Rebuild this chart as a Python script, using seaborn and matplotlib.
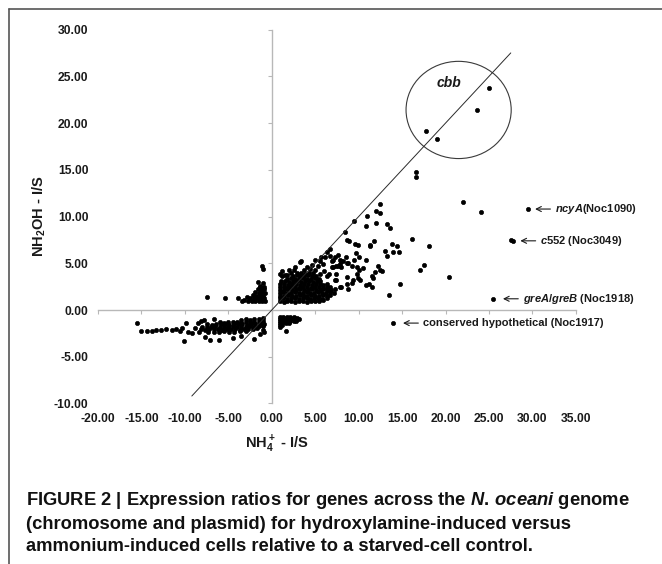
import pandas as pd
import matplotlib
matplotlib.use('Agg')
from matplotlib import pyplot as plt
from matplotlib.patches import Ellipse
from matplotlib.lines import Line2D
import seaborn as sns

sns.set_theme(style='white')
plt.rcParams['font.family'] = ['Liberation Sans', 'DejaVu Sans']
plt.rcParams['font.weight'] = 'bold'
plt.rcParams['mathtext.fontset'] = 'custom'
plt.rcParams['mathtext.rm'] = 'Liberation Sans:bold'
plt.rcParams['mathtext.it'] = 'Liberation Sans:bold:italic'
plt.rcParams['mathtext.bf'] = 'Liberation Sans:bold'

# ---- data (NH4+ I/S, NH2OH I/S) ----
# dense block, both induced
q1_core_x = [0.9, 1.35, 1.8, 2.25, 2.7, 3.15, 3.6, 4.05, 4.5, 4.95, 5.4, 5.85,
             0.9, 1.3, 1.75, 2.2, 2.65, 3.1, 3.55, 4.0, 4.45, 4.9, 5.35, 5.8, 6.3,
             0.9, 1.4, 1.85, 2.3, 2.75, 3.2, 3.65, 4.1, 4.55, 5.0, 5.45, 5.9, 6.35, 6.75,
             0.9, 1.3, 1.75, 2.2, 2.65, 3.1, 3.55, 4.0, 4.45, 4.9, 5.35, 5.8, 6.25, 6.7, 7.2,
             1.0, 1.45, 1.9, 2.35, 2.8, 3.25, 3.7, 4.15, 4.6, 5.05, 5.5, 5.95, 6.4, 6.85, 7.3,
             0.9, 1.35, 1.8, 2.25, 2.7, 3.15, 3.6, 4.05, 4.5, 4.95, 5.4, 5.85, 6.3, 6.75,
             1.0, 1.45, 1.9, 2.35, 2.8, 3.25, 3.7, 4.15, 4.6, 5.05, 5.5, 5.95, 6.4,
             1.1, 1.55, 2.0, 2.45, 2.9, 3.35, 3.8, 4.25, 4.7, 5.15, 5.6,
             1.8, 2.25, 2.7, 3.15, 3.6, 4.05, 4.5, 4.95, 5.4,
             2.4, 2.85, 3.3, 3.75, 4.2, 4.65, 5.1,
             2.9, 3.35, 3.8, 4.25, 4.7]
q1_core_y = [0.95, 0.9, 0.95, 1.0, 0.9, 0.95, 1.0, 0.9, 0.95, 1.0, 0.95, 1.05,
             1.25, 1.3, 1.2, 1.25, 1.3, 1.2, 1.25, 1.3, 1.2, 1.25, 1.3, 1.2, 1.3,
             1.55, 1.5, 1.6, 1.55, 1.5, 1.6, 1.55, 1.5, 1.6, 1.55, 1.5, 1.6, 1.55, 1.6,
             1.85, 1.9, 1.8, 1.85, 1.9, 1.8, 1.85, 1.9, 1.8, 1.85, 1.9, 1.8, 1.85, 1.9, 1.8,
             2.15, 2.1, 2.2, 2.15, 2.1, 2.2, 2.15, 2.1, 2.2, 2.15, 2.1, 2.2, 2.15, 2.1, 2.2,
             2.45, 2.5, 2.4, 2.45, 2.5, 2.4, 2.45, 2.5, 2.4, 2.45, 2.5, 2.4, 2.45, 2.5,
             2.75, 2.8, 2.7, 2.75, 2.8, 2.7, 2.75, 2.8, 2.7, 2.75, 2.8, 2.7, 2.75,
             3.05, 3.1, 3.0, 3.05, 3.1, 3.0, 3.05, 3.1, 3.0, 3.05, 3.1,
             3.35, 3.4, 3.3, 3.35, 3.4, 3.3, 3.35, 3.4, 3.3,
             3.65, 3.7, 3.6, 3.65, 3.7, 3.6, 3.65,
             3.95, 4.0, 3.9, 3.95, 4.0]

# scattered points, both induced
q1_x = [0.9, 1.2, 1.8, 2.2, 3.2, 1.2, 2.0, 2.7, 3.4, 1.5,
        4.95, 5.5, 5.7, 6.1, 6.3, 6.7, 6.75, 7.1, 7.6, 7.8, 5.9, 6.9, 7.4, 6.3, 7.3,
        7.8, 6.7, 8.6, 7.4, 8.0, 8.6, 8.5, 8.2, 8.8, 9.2, 7.6, 7.1, 8.0, 7.3, 6.9, 7.8,
        7.4, 8.0, 8.8, 9.2, 8.6, 9.4, 10.1, 9.7, 10.05, 9.45, 10.8,
        9.8, 10.05, 10.5, 9.75, 9.9,
        12.2, 11.85, 12.4, 12.7, 11.55, 11.7, 11.2, 11.55, 10.8,
        13.85, 14.4, 13.9, 14.6, 13.0, 13.3,
        11.3, 11.3, 11.8, 9.55, 9.9, 8.6, 8.9, 8.4,
        12.5, 12.0, 12.5, 11.0, 9.5, 10.8, 12.0, 13.3, 13.6,
        14.8, 13.5, 16.1, 18.1, 17.0, 17.5, 20.4,
        16.6, 16.6, 22.0, 24.1,
        4.4, 5.0, 5.3, 4.0, 3.7, 6.0, 6.6, 5.6, 4.6, 2.6]
q1_y = [3.9, 3.6, 3.7, 4.0, 5.1, 4.2, 4.3, 4.6, 5.2, 3.7,
        5.35, 5.2, 5.7, 5.7, 6.2, 6.5, 5.8, 5.3, 5.9, 4.9, 4.9, 4.6, 3.9, 3.6, 3.2,
        2.5, 2.1, 2.8, 4.7, 5.2, 5.0, 5.7, 5.2, 5.0, 4.7, 4.7, 4.6, 4.6, 5.7, 5.2, 5.3,
        3.2, 2.5, 2.2, 2.9, 3.5, 3.2, 3.2, 6.1, 5.7, 5.3, 5.3,
        4.6, 4.3, 4.45, 3.9, 3.4,
        4.7, 4.1, 4.3, 4.2, 3.6, 3.4, 2.8, 2.5, 2.7,
        7.1, 6.8, 6.2, 6.2, 6.3, 5.8,
        7.0, 6.8, 7.4, 7.05, 6.95, 7.5, 7.4, 8.3,
        11.3, 10.6, 10.4, 10.1, 9.5, 9.0, 9.3, 9.25, 8.8,
        2.8, 1.6, 7.6, 6.8, 4.3, 4.8, 3.5,
        14.8, 14.2, 11.5, 10.5,
        4.4, 4.3, 4.7, 4.6, 4.3, 4.2, 3.9, 3.8, 4.8, 4.3]

# cbb genes and labelled genes
cbb_x = [17.7, 19.0, 23.6, 25.0]
cbb_y = [19.1, 18.3, 21.4, 23.8]
named_x = [29.5, 27.5, 27.8, 25.5, 13.9]
named_y = [10.8, 7.45, 7.4, 1.2, -1.4]

# NH2OH up, NH4+ down
q2_x = [-2.7, -2.3, -1.9, -1.5, -1.1, -0.8,
        -2.5, -2.1, -1.7, -1.3, -0.9,
        -2.2, -1.8, -1.4, -1.0,
        -1.9, -1.5, -1.1, -0.8,
        -1.6, -1.2, -0.9,
        -1.3, -0.9,
        -7.4, -5.4, -3.9, -3.2, -2.9, -1.6, -1.4, -1.1, -1.0, -1.0, -3.4]
q2_y = [1.0, 0.95, 1.0, 0.95, 1.0, 0.95,
        1.3, 1.25, 1.3, 1.25, 1.3,
        1.6, 1.55, 1.6, 1.55,
        1.9, 1.85, 1.9, 1.85,
        2.2, 2.15, 2.2,
        2.5, 2.45,
        1.4, 1.3, 1.3, 1.1, 1.4, 3.0, 2.6, 4.7, 4.4, 2.9, 1.0]

# NH4+ up, NH2OH down
q4_x = [0.9, 1.3, 1.7, 2.1, 2.5, 2.9,
        0.9, 1.3, 1.7, 2.1, 2.5, 2.9, 3.1,
        0.9, 1.3, 1.7, 2.1, 2.5, 2.8,
        0.9, 1.2, 1.6, 2.0,
        0.9, 1.2, 1.6, 0.9]
q4_y = [-0.8, -0.8, -0.75, -0.8, -0.8, -0.85,
        -1.0, -1.0, -1.0, -1.0, -1.0, -1.0, -1.0,
        -1.2, -1.2, -1.2, -1.2, -1.2, -1.2,
        -1.4, -1.4, -1.4, -1.35,
        -1.6, -1.6, -2.25, -1.8]

# both repressed
q3_x = [-3.5, -3.0, -2.5, -2.0, -1.5, -1.0,
        -6.0, -5.5, -5.0, -4.5, -4.0, -3.5, -3.0, -2.5, -2.0, -1.5, -1.0,
        -7.4, -6.9, -6.4, -5.9, -5.4, -4.9, -4.4, -3.9, -3.4, -2.9, -2.4, -1.9, -1.4, -0.9,
        -8.0, -7.5, -7.0, -6.5, -6.0, -5.5, -5.0, -4.5, -4.0, -3.5, -3.0, -2.5, -2.0, -1.5, -1.0,
        -8.2, -7.7, -7.2, -6.7, -6.2, -5.7, -5.2, -4.7, -4.2, -3.7, -3.2, -2.7, -2.2, -1.7,
        -7.3, -6.7, -6.1, -5.5, -4.9, -4.3, -3.7, -3.0,
        -15.5, -15.1, -14.4, -13.8, -13.3, -12.7, -12.2, -11.5, -11.0, -10.6,
        -10.3, -10.1, -9.9, -9.6, -9.2, -8.8, -8.5, -8.4, -7.7, -7.1, -6.1,
        -4.5, -3.5, -2.1, -1.4, -8.1, -7.8, -6.7, -1.0, -0.9]
q3_y = [-1.05, -1.0, -1.05, -1.0, -0.95, -0.9,
        -1.3, -1.35, -1.3, -1.25, -1.3, -1.35, -1.3, -1.25, -1.3, -1.25, -1.2,
        -1.55, -1.6, -1.55, -1.5, -1.55, -1.6, -1.55, -1.5, -1.55, -1.6, -1.55, -1.5, -1.5, -1.45,
        -1.8, -1.85, -1.8, -1.75, -1.8, -1.85, -1.8, -1.75, -1.8, -1.85, -1.8, -1.75, -1.8, -1.75, -1.7,
        -2.05, -2.1, -2.05, -2.0, -2.05, -2.1, -2.05, -2.0, -2.05, -2.1, -2.05, -2.0, -2.0, -1.95,
        -2.3, -2.35, -2.3, -2.25, -2.3, -2.3, -2.25, -2.2,
        -1.4, -2.2, -2.2, -2.2, -2.15, -2.1, -2.0, -2.1, -2.0, -2.2,
        -1.9, -3.3, -1.4, -2.3, -2.5, -1.9, -1.4, -2.4, -2.9, -3.2, -3.2,
        -3.0, -2.8, -3.1, -2.6, -1.2, -1.1, -1.0, -2.1, -2.3]

diag_x = [-9.2, 27.5]
diag_y = [-9.2, 27.5]

x_ticks = [-20, -15, -10, -5, 0, 5, 10, 15, 20, 25, 30, 35]
y_ticks = [-10, -5, 0, 5, 10, 15, 20, 25, 30]

pts = pd.DataFrame({
    'x': q1_core_x + q1_x + cbb_x + named_x + q2_x + q4_x + q3_x,
    'y': q1_core_y + q1_y + cbb_y + named_y + q2_y + q4_y + q3_y,
})

fig = plt.figure(figsize=(6.62, 5.64), dpi=100)
pos = [0.148, 0.2846, 0.722, 0.663]

# labels sit at the outer edge (Excel "low" axis labels)
lab = fig.add_axes(pos)
lab.set_facecolor('none')
lab.set_xlim(-20, 35)
lab.set_ylim(-10, 30)
lab.set_xticks(x_ticks, ['%.2f' % v for v in x_ticks])
lab.set_yticks(y_ticks, ['%.2f' % v for v in y_ticks])
lab.tick_params(length=0, labelsize=8.7, colors='#1a1a1a', pad=7)
for s in lab.spines.values():
    s.set_visible(False)
lab.set_ylabel(r'NH$_2$OH - I/S', fontsize=10.5, fontweight='bold', color='#1a1a1a')
lab.yaxis.set_label_coords(-0.105, 0.5)
lab.set_xlabel(r'NH$_4^+$ - I/S', fontsize=10.5, fontweight='bold', color='#1a1a1a')
lab.xaxis.set_label_coords(0.374, -0.08)

ax = fig.add_axes(pos)
ax.set_facecolor('none')
sns.scatterplot(data=pts, x='x', y='y', color='black', s=9, linewidth=0.5,
                edgecolor='black', ax=ax, zorder=3)
sns.lineplot(x=diag_x, y=diag_y, color='#2a2a2a', linewidth=0.7, ax=ax, zorder=4)
ax.set_xlim(-20, 35)
ax.set_ylim(-10, 30)
ax.set_xticks(x_ticks)
ax.set_yticks(y_ticks)
ax.spines['left'].set_position(('data', 0))
ax.spines['bottom'].set_position(('data', 0))
ax.spines['top'].set_visible(False)
ax.spines['right'].set_visible(False)
for s in ['left', 'bottom']:
    ax.spines[s].set_color('#b8b8b8')
    ax.spines[s].set_linewidth(1.0)
ax.tick_params(direction='out', length=3, width=0.8, color='#b8b8b8',
               labelleft=False, labelbottom=False, left=True, bottom=True)
ax.set_xlabel('')
ax.set_ylabel('')

ax.add_patch(Ellipse((21.5, 21.4), 12.1, 10.4, fill=False, ec='#3a3a3a', lw=0.8, zorder=2))
ax.text(20.4, 24.3, 'cbb', fontsize=10, fontweight='bold', fontstyle='italic',
        ha='center', va='center', color='#1a1a1a')

arrow = dict(arrowstyle='->', lw=0.8, color='#1a1a1a', shrinkA=1, shrinkB=0, mutation_scale=9)
ax.annotate(r'$ncyA$(Noc1090)', xy=(30.3, 10.8), xytext=(32.6, 10.8), fontsize=8,
            ha='left', va='center', color='#1a1a1a', arrowprops=arrow, annotation_clip=False)
ax.annotate(r'$c552$ (Noc3049)', xy=(28.6, 7.4), xytext=(30.9, 7.4), fontsize=8,
            ha='left', va='center', color='#1a1a1a', arrowprops=arrow, annotation_clip=False)
ax.annotate(r'$greA/greB$ (Noc1918)', xy=(26.6, 1.2), xytext=(28.9, 1.2), fontsize=8,
            ha='left', va='center', color='#1a1a1a', arrowprops=arrow, annotation_clip=False)
ax.annotate('conserved hypothetical (Noc1917)', xy=(15.1, -1.4), xytext=(17.4, -1.4), fontsize=8,
            ha='left', va='center', color='#1a1a1a', arrowprops=arrow, annotation_clip=False)

# caption and frame
fig.text(0.039, 0.132,
         'FIGURE 2 | Expression ratios for genes across the $N.\\,oceani$ genome\n'
         '(chromosome and plasmid) for hydroxylamine-induced versus\n'
         'ammonium-induced cells relative to a starved-cell control.',
         fontsize=13.2, fontweight='bold', color='#111111', ha='left', va='top', linespacing=1.42)
fig.add_artist(Line2D([9 / 662, 1.0], [1 - 9 / 564, 1 - 9 / 564], color='#555555', lw=1.2))
fig.add_artist(Line2D([9 / 662, 9 / 662], [0.0, 1 - 9 / 564], color='#555555', lw=1.2))

fig.savefig('out.png', dpi=100)
